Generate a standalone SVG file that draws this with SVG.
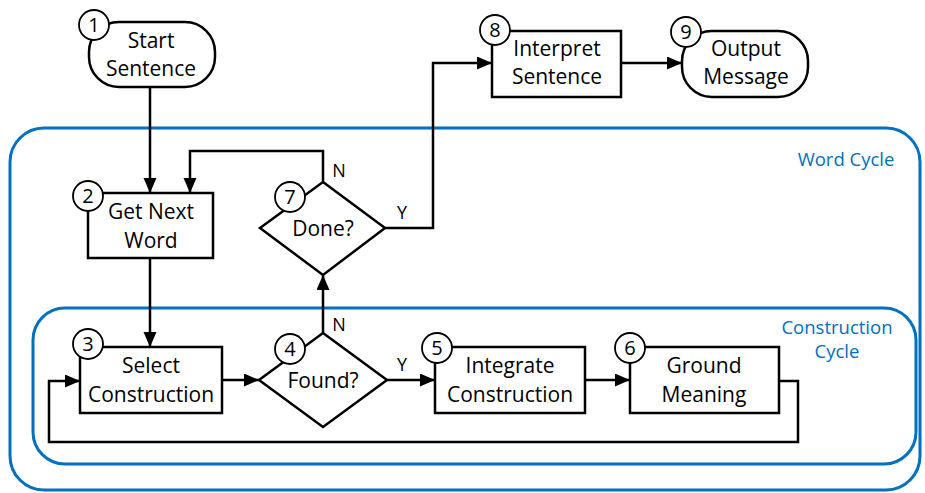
<svg xmlns="http://www.w3.org/2000/svg" width="925" height="493" viewBox="0 0 925 493">
  <style>
    .box { fill: #fff; stroke: #000; stroke-width: 2.5; }
    .num { fill: #fff; stroke: #000; stroke-width: 1.8; }
    .lbl { font-family: "Open Sans", "Noto Sans", sans-serif; font-size: 21px; fill: #000; text-anchor: middle; }
    .numt { font-family: "Open Sans", "Noto Sans", sans-serif; font-size: 20px; fill: #000; text-anchor: middle; }
    .yn { font-family: "Open Sans", "Noto Sans", sans-serif; font-size: 18px; fill: #000; text-anchor: middle; }
    .cyc { fill: none; stroke: #0070C0; stroke-width: 3; }
    .cyct { font-family: "Open Sans", "Noto Sans", sans-serif; font-size: 18.5px; fill: #0070C0; text-anchor: middle; }
    .wire { fill: none; stroke: #000; stroke-width: 2.5; }
  </style>
  <defs>
    <marker id="arrow" markerUnits="userSpaceOnUse" markerWidth="16" markerHeight="14" refX="15" refY="6.5" orient="auto">
      <path d="M0,0 L15,6.5 L0,13 z" fill="#000"/>
    </marker>
  </defs>
  <rect width="925" height="493" fill="#fff"/>

  <!-- cycle frames -->
  <g id="word-cycle">
    <rect class="cyc" x="10" y="128" width="910" height="362" rx="34"/>
    <text class="cyct" x="846" y="166">Word Cycle</text>
  </g>
  <g id="construction-cycle">
    <rect class="cyc" x="33" y="308" width="883" height="156" rx="32"/>
    <text class="cyct" x="837" y="334">Construction</text>
    <text class="cyct" x="837" y="358">Cycle</text>
  </g>

  <!-- connectors -->
  <g id="connectors">
    <path class="wire" d="M150,87 V193" marker-end="url(#arrow)"/>
    <path class="wire" d="M323,182 V151 H190 V193" marker-end="url(#arrow)"/>
    <path class="wire" d="M385,228 H433 V63 H492" marker-end="url(#arrow)"/>
    <path class="wire" d="M621,63 H682" marker-end="url(#arrow)"/>
    <path class="wire" d="M150,258 V347" marker-end="url(#arrow)"/>
    <path class="wire" d="M222,380 H259" marker-end="url(#arrow)"/>
    <path class="wire" d="M323,333 V275" marker-end="url(#arrow)"/>
    <path class="wire" d="M387,380 H435" marker-end="url(#arrow)"/>
    <path class="wire" d="M585,380 H630" marker-end="url(#arrow)"/>
    <path class="wire" d="M779,381 H798 V442 H49 V381 H80" marker-end="url(#arrow)"/>
    <text class="yn" x="339" y="177">N</text>
    <text class="yn" x="402" y="219">Y</text>
    <text class="yn" x="339" y="331">N</text>
    <text class="yn" x="402" y="371">Y</text>
  </g>

  <!-- nodes -->
  <g id="n1">
    <rect class="box" x="89" y="22" width="126" height="65" rx="30"/>
    <text class="lbl" x="151" y="48">Start</text>
    <text class="lbl" x="151" y="76">Sentence</text>
    <circle class="num" cx="94" cy="25" r="15"/>
    <text class="numt" x="94" y="32">1</text>
  </g>
  <g id="n2">
    <rect class="box" x="88" y="193" width="125" height="65"/>
    <text class="lbl" x="151" y="219">Get Next</text>
    <text class="lbl" x="151" y="248">Word</text>
    <circle class="num" cx="88" cy="196" r="15"/>
    <text class="numt" x="88" y="203">2</text>
  </g>
  <g id="n3">
    <rect class="box" x="80" y="347" width="142" height="66"/>
    <text class="lbl" x="151" y="373">Select</text>
    <text class="lbl" x="151" y="402">Construction</text>
    <circle class="num" cx="88" cy="344" r="15"/>
    <text class="numt" x="88" y="351">3</text>
  </g>
  <g id="n4">
    <polygon class="box" points="323,333 387,380 323,427 259,380"/>
    <text class="lbl" x="323" y="388">Found?</text>
    <circle class="num" cx="290" cy="349" r="15"/>
    <text class="numt" x="290" y="356">4</text>
  </g>
  <g id="n5">
    <rect class="box" x="435" y="347" width="150" height="66"/>
    <text class="lbl" x="510" y="373">Integrate</text>
    <text class="lbl" x="510" y="402">Construction</text>
    <circle class="num" cx="437" cy="348" r="15"/>
    <text class="numt" x="437" y="355">5</text>
  </g>
  <g id="n6">
    <rect class="box" x="630" y="347" width="149" height="66"/>
    <text class="lbl" x="704" y="373">Ground</text>
    <text class="lbl" x="704" y="402">Meaning</text>
    <circle class="num" cx="630" cy="348" r="15"/>
    <text class="numt" x="630" y="355">6</text>
  </g>
  <g id="n7">
    <polygon class="box" points="323,182 385,228 323,275 260,228"/>
    <text class="lbl" x="323" y="236">Done?</text>
    <circle class="num" cx="290" cy="197" r="15"/>
    <text class="numt" x="290" y="204">7</text>
  </g>
  <g id="n8">
    <rect class="box" x="492" y="31" width="129" height="66"/>
    <text class="lbl" x="557" y="56">Interpret</text>
    <text class="lbl" x="557" y="84">Sentence</text>
    <circle class="num" cx="495" cy="30" r="15"/>
    <text class="numt" x="495" y="37">8</text>
  </g>
  <g id="n9">
    <rect class="box" x="682" y="31" width="126" height="66" rx="30"/>
    <text class="lbl" x="746" y="56">Output</text>
    <text class="lbl" x="746" y="84">Message</text>
    <circle class="num" cx="686" cy="32" r="15"/>
    <text class="numt" x="686" y="39">9</text>
  </g>
</svg>
